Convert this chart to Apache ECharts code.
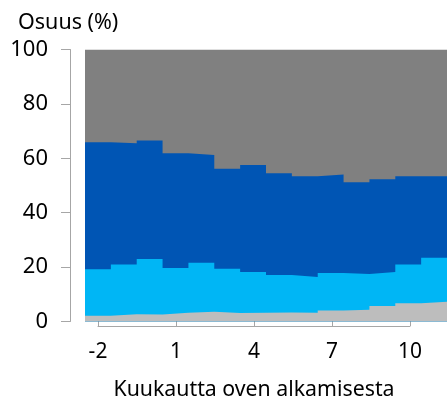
<!DOCTYPE html>
<html>
<head>
<meta charset="utf-8">
<script src="https://cdn.jsdelivr.net/npm/echarts@6/dist/echarts.min.js"></script>
<style>
  html, body { margin: 0; padding: 0; background: #fff; }
  #chart { width: 447px; height: 405px; }
</style>
</head>
<body>
<div id="chart"></div>
<script>
// kuukaudet oven alkamisesta
var months = [-2, -1, 0, 1, 2, 3, 4, 5, 6, 7, 8, 9, 10, 11];
// osuudet (%), alhaalta ylös
var lightGray = [2.1, 2.7, 2.6, 3.2, 3.6, 3.1, 3.2, 3.3, 3.2, 4.0, 4.3, 5.7, 6.7, 7.3];
var lightBlue = [17.1, 18.3, 20.4, 16.5, 18.0, 16.3, 15.0, 13.8, 13.2, 13.8, 13.2, 12.5, 14.3, 16.1];
var darkBlue = [46.7, 44.5, 43.5, 42.2, 39.6, 36.8, 39.3, 37.4, 37.0, 36.2, 33.7, 34.1, 32.4, 30.0];
var topGray = months.map(function (m, i) {
  return +(100 - lightGray[i] - lightBlue[i] - darkBlue[i]).toFixed(1);
});
var tickLabels = months.slice(0, 13).map(String);

var font = '"Noto Sans", sans-serif';
var axisColor = '#a6a6a6';

// kasautetut summat lasketaan itse, alueet piirretään päällekkäin
var layers = [lightGray, lightBlue, darkBlue, topGray];
var colors = ['#bdbdbd', '#00b6f5', '#0055b4', '#808080'];
var names = ['lightGray', 'lightBlue', 'darkBlue', 'topGray'];
var cumulative = [];
layers.forEach(function (arr, k) {
  cumulative.push(arr.map(function (v, i) { return (k ? cumulative[k - 1][i] : 0) + v; }));
});

// porrasalue: jokaisella kuukaudella on kaistan levyinen vaakasuora pala
function stepPoints(values) {
  var pts = [];
  months.forEach(function (m, i) {
    pts.push([m - 0.5, values[i]]);
    pts.push([m + 0.5, values[i]]);
  });
  return pts;
}

var series = [];
for (var k = layers.length - 1; k >= 0; k--) {
  series.push({
    name: names[k], type: 'line', data: stepPoints(cumulative[k]),
    xAxisIndex: 0, yAxisIndex: 0,
    showSymbol: false, silent: true,
    lineStyle: { width: 0 },
    areaStyle: { color: colors[k], opacity: 1, origin: 'start' }
  });
}

var chart = echarts.init(document.getElementById('chart'));

chart.setOption({
  animation: false,
  title: {
    text: 'Osuus (%)', left: 13, top: 7,
    textStyle: { fontFamily: font, fontSize: 21.5, fontWeight: 'normal', color: '#000' }
  },
  grid: [
    // 14 kuukautta x 26 px
    { left: 85, right: -2, top: 49.5, bottom: 83.5 },
    { left: 98, right: 37, top: 49.5, bottom: 76.5 }
  ],
  xAxis: [
    {
      type: 'value', gridIndex: 0, min: months[0] - 0.5, max: months[months.length - 1] + 0.5,
      show: false, splitLine: { show: false }
    },
    {
      type: 'category', gridIndex: 1, data: tickLabels, boundaryGap: false,
      axisLine: { lineStyle: { color: axisColor, width: 1 } },
      axisTick: { inside: true, length: 6, interval: 2, lineStyle: { color: axisColor } },
      axisLabel: { interval: 2, margin: 16, fontFamily: font, fontSize: 21, color: '#000' },
      splitLine: { show: false },
      name: 'Kuukautta oven alkamisesta', nameLocation: 'middle', nameGap: 53,
      nameTextStyle: { fontFamily: font, fontSize: 21.3, color: '#000' }
    }
  ],
  yAxis: [
    {
      type: 'value', gridIndex: 0, min: 0, max: 100, interval: 20, offset: 15,
      axisLine: { show: true, onZero: false, lineStyle: { color: axisColor, width: 1 } },
      axisTick: { show: true, length: 9, lineStyle: { color: axisColor } },
      axisLabel: { margin: 22, fontFamily: font, fontSize: 22, color: '#000' },
      splitLine: { show: false }
    },
    { type: 'value', gridIndex: 1, show: false }
  ],
  series: series
});
</script>
</body>
</html>
